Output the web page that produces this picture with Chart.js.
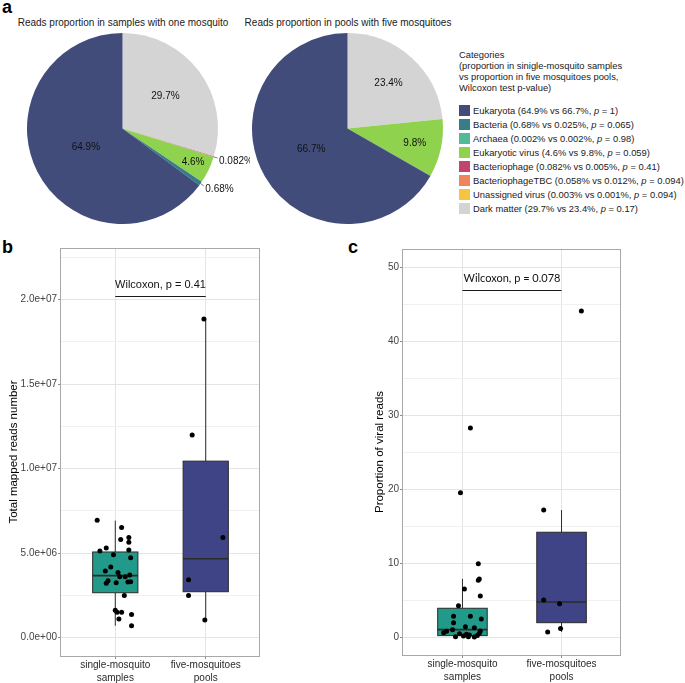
<!DOCTYPE html>
<html>
<head>
<meta charset="utf-8">
<script src="https://cdn.jsdelivr.net/npm/chart.js@4.4.1/dist/chart.umd.min.js"></script>
<style>
  body { margin: 0; background: #fff; font-family: "Liberation Sans", Arial, sans-serif; }
  #wrap { position: relative; width: 685px; height: 683px; overflow: hidden; }
  canvas { position: absolute; }
  .panel { position: absolute; font-weight: bold; font-size: 18px; line-height: 18px; color: #000; }
  .ptitle { position: absolute; width: 240px; text-align: center; font-size: 10px; line-height: 12px; color: #1a1a1a; }
  #legend { position: absolute; left: 459px; top: 49px; font-size: 9.4px; color: #1a1a1a; }
  #legend .head { line-height: 11.1px; margin-bottom: 10px; }
  #legend .row { height: 14px; display: flex; align-items: center; white-space: nowrap; }
  #legend .sw { width: 11px; height: 11px; margin-right: 3px; flex: none; }
</style>
</head>
<body>
<div id="wrap">
  <div class="panel" style="left:2px;top:-2px">a</div>
  <div class="panel" style="left:2px;top:238px">b</div>
  <div class="panel" style="left:348px;top:238px">c</div>
  <div class="ptitle" style="left:3px;top:17px">Reads proportion in samples with one mosquito</div>
  <div class="ptitle" style="left:228px;top:17px">Reads proportion in pools with five mosquitoes</div>
  <div id="legend"></div>
  <canvas id="pie1" width="250" height="200" style="left:0;top:30px"></canvas>
  <canvas id="pie2" width="210" height="200" style="left:240px;top:30px"></canvas>
  <canvas id="boxB" width="275" height="443" style="left:0;top:240px"></canvas>
  <canvas id="boxC" width="295" height="443" style="left:340px;top:240px"></canvas>
</div>
<script>
// ---- panel a data ----
const categories = ['Eukaryota', 'Bacteria', 'Archaea', 'Eukaryotic virus', 'Bacteriophage',
  'BacteriophageTBC', 'Unassigned virus', 'Dark matter'];
const catColors = ['#424C7A', '#377C89', '#52BA98', '#8FD24E', '#C24470', '#EF855C', '#F5C441', '#D4D4D4'];
const pctSingle = [64.9, 0.68, 0.002, 4.6, 0.082, 0.058, 0.003, 29.7];
const pctPools = [66.7, 0.025, 0.002, 9.8, 0.005, 0.012, 0.001, 23.4];
const pValues = ['1', '0.065', '0.98', '0.059', '0.41', '0.094', '0.094', '0.17'];

// which slices get a label, and where (fraction of radius, or 'out')
const pie1Labels = { 0: 0.43, 1: 'out', 3: 0.82, 4: 'out', 7: 0.56 };
const pie2Labels = { 0: 0.44, 3: 0.72, 7: 0.64 };

// ---- panels b / c data ----
const groupLabels = [['single-mosquito', 'samples'], ['five-mosquitoes', 'pools']];
const boxFills = ['#229A8A', '#3E4486'];

const readsSingle = [6.95e6, 6.51e6, 5.80e6, 5.92e6, 5.65e6, 5.31e6, 5.13e6, 5.19e6, 4.91e6, 4.73e6,
  4.18e6, 3.95e6, 3.85e6, 3.61e6, 3.61e6, 3.71e6, 3.37e6, 3.22e6, 3.25e6, 3.30e6,
  3.31e6, 2.49e6, 1.62e6, 1.50e6, 1.50e6, 1.11e6, 1.38e6, 0.71e6];
const readsSingleJitter = [-0.20, 0.07, 0.06, 0.15, 0.15, -0.10, -0.17, 0.15, -0.02, 0.17,
  -0.05, -0.11, 0.03, 0.05, 0.11, 0.16, -0.08, -0.10, 0.01, 0.14,
  0.17, 0.10, 0.0, 0.02, 0.07, 0.04, 0.18, 0.18];
const readsPools = [18.84e6, 11.98e6, 5.92e6, 3.43e6, 2.49e6, 1.05e6];
const readsPoolsJitter = [-0.02, -0.15, 0.19, -0.19, -0.19, -0.01];
// min, q1, median, q3, max
const readsBoxes = [[0.71e6, 2.66e6, 3.67e6, 5.07e6, 6.92e6], [1.05e6, 2.72e6, 4.67e6, 10.44e6, 18.84e6]];
const readsTicks = [0, 2.5e6, 5e6, 7.5e6, 10e6, 12.5e6, 15e6, 17.5e6, 20e6, 22.5e6];
const readsTest = { y: 20.2e6, text: 'Wilcoxon, p = 0.41' };

const viralSingle = [19.54, 28.3, 9.95, 7.88, 7.70, 6.53, 5.58, 4.27, 2.84, 2.84,
  2.47, 1.97, 1.43, 1.30, 1.03, 0.85, 0.62, 0.81, 0.49, 0.41,
  0.31, 0.18, 0.08, 0.08, 0.04, 0.22, 0.54];
const viralSingleJitter = [-0.02, 0.08, 0.16, 0.17, 0.16, 0.02, 0.18, -0.04, -0.09, 0.08,
  0.19, -0.09, 0.03, 0.12, -0.10, 0.18, -0.19, -0.16, -0.03, 0.04,
  0.07, 0.01, 0.06, -0.07, 0.12, 0.15, 0.17];
const viralPools = [44.1, 17.2, 5.04, 4.54, 0.72, 1.17];
const viralPoolsJitter = [0.20, -0.18, -0.18, -0.02, -0.14, -0.01];
const viralBoxes = [[0.04, 0.22, 1.03, 3.92, 7.9], [0.72, 1.97, 4.77, 14.2, 17.2]];
const viralTicks = [0, 5, 10, 15, 20, 25, 30, 35, 40, 45, 50];
const viralTest = { y: 47.0, text: 'Wilcoxon, p = 0.078' };

const FONT = '"Liberation Sans", Arial, sans-serif';

// legend (html)
var legendHtml = '<div class="head">Categories<br>(proportion in sinigle-mosquito samples<br>' +
  'vs proportion in five mosquitoes pools,<br>Wilcoxon test p-value)</div>';
categories.forEach(function (c, i) {
  legendHtml += '<div class="row"><div class="sw" style="background:' + catColors[i] + '"></div><span>' +
    c + ' (' + pctSingle[i] + '% vs ' + pctPools[i] + '%, <i>p</i> = ' + pValues[i] + ')</span></div>';
});
document.getElementById('legend').innerHTML = legendHtml;

// pie labels plugin
function pieLabelPlugin(values, labels) {
  return {
    id: 'pieLabels',
    afterDatasetsDraw(chart) {
      const ctx = chart.ctx;
      const arcs = chart.getDatasetMeta(0).data;
      const n = values.length;
      ctx.save();
      ctx.font = '10px ' + FONT;
      ctx.fillStyle = '#111';
      ctx.textBaseline = 'middle';
      Object.keys(labels).forEach(function (k) {
        const i = +k;
        const arc = arcs[n - 1 - i]; // drawn in reverse order
        const mid = (arc.startAngle + arc.endAngle) / 2;
        const txt = values[i] + '%';
        const r = arc.outerRadius;
        if (labels[k] === 'out') {
          const x0 = arc.x + Math.cos(mid) * r, y0 = arc.y + Math.sin(mid) * r;
          const x1 = arc.x + Math.cos(mid) * (r + 4), y1 = arc.y + Math.sin(mid) * (r + 4);
          ctx.strokeStyle = '#555';
          ctx.lineWidth = 0.8;
          ctx.beginPath(); ctx.moveTo(x0, y0); ctx.lineTo(x1, y1); ctx.stroke();
          ctx.textAlign = 'left';
          ctx.fillText(txt, x1 + 1.5, y1 + 3);
        } else {
          ctx.textAlign = 'center';
          ctx.fillText(txt, arc.x + Math.cos(mid) * r * labels[k], arc.y + Math.sin(mid) * r * labels[k]);
        }
      });
      ctx.restore();
    }
  };
}

function makePie(id, values, labels, pad) {
  return new Chart(document.getElementById(id), {
    type: 'pie',
    data: {
      labels: categories.slice().reverse(),
      datasets: [{
        data: values.slice().reverse(),
        backgroundColor: catColors.slice().reverse(),
        borderWidth: 0,
        hoverOffset: 0
      }]
    },
    options: {
      responsive: false,
      animation: false,
      events: [],
      layout: { padding: pad },
      plugins: { legend: { display: false }, tooltip: { enabled: false } }
    },
    plugins: [pieLabelPlugin(values, labels)]
  });
}

makePie('pie1', pctSingle, pie1Labels, { left: 27, right: 32, top: 3, bottom: 6 });
makePie('pie2', pctPools, pie2Labels, { left: 12, right: 7, top: 3, bottom: 6 });

// box plot drawing, through the chart scales
const BOX_WIDTH = 0.5;
function boxPlugin(stats, test, testFont) {
  return {
    id: 'boxes',
    beforeDatasetsDraw(chart) {
      const { ctx, scales: { x, y } } = chart;
      ctx.save();
      stats.forEach(function (s, i) {
        const cx = x.getPixelForValue(i + 1);
        const left = x.getPixelForValue(i + 1 - BOX_WIDTH / 2);
        const right = x.getPixelForValue(i + 1 + BOX_WIDTH / 2);
        const q1 = y.getPixelForValue(s[1]), q3 = y.getPixelForValue(s[3]);
        ctx.strokeStyle = '#2b2b2b';
        ctx.lineWidth = 1;
        ctx.beginPath();
        ctx.moveTo(cx, y.getPixelForValue(s[0])); ctx.lineTo(cx, q1);
        ctx.moveTo(cx, q3); ctx.lineTo(cx, y.getPixelForValue(s[4]));
        ctx.stroke();
        ctx.fillStyle = boxFills[i];
        ctx.fillRect(left, q3, right - left, q1 - q3);
        ctx.strokeRect(left, q3, right - left, q1 - q3);
        ctx.lineWidth = 1.6;
        const med = y.getPixelForValue(s[2]);
        ctx.beginPath(); ctx.moveTo(left, med); ctx.lineTo(right, med); ctx.stroke();
      });
      ctx.restore();
    },
    afterDraw(chart) {
      const { ctx, chartArea: a, scales: { x, y } } = chart;
      ctx.save();
      ctx.strokeStyle = '#a8a8a8';
      ctx.lineWidth = 1;
      ctx.strokeRect(Math.round(a.left) - 0.5, Math.round(a.top) + 0.5, Math.round(a.right - a.left), Math.round(a.bottom - a.top));
      const yy = Math.round(y.getPixelForValue(test.y)) + 0.5;
      const x1 = x.getPixelForValue(1), x2 = x.getPixelForValue(2);
      ctx.strokeStyle = '#1a1a1a';
      ctx.lineWidth = 1.1;
      ctx.beginPath(); ctx.moveTo(x1, yy); ctx.lineTo(x2, yy); ctx.stroke();
      ctx.font = testFont;
      ctx.fillStyle = '#111';
      ctx.textAlign = 'center';
      ctx.textBaseline = 'middle';
      ctx.fillText(test.text, (x1 + x2) / 2, yy - 12);
      ctx.restore();
    }
  };
}

function sci(v) {
  const parts = v.toExponential(1).split('e');
  const n = parseInt(parts[1], 10);
  return parts[0] + 'e' + (n < 0 ? '-' : '+') + String(Math.abs(n)).padStart(2, '0');
}

function makeBox(id, o) {
  const pts = function (vals, jit, g) {
    return vals.map(function (v, i) { return { x: g + jit[i], y: v }; });
  };
  return new Chart(document.getElementById(id), {
    type: 'scatter',
    data: {
      datasets: [
        { data: pts(o.single, o.singleJit, 1) },
        { data: pts(o.pools, o.poolsJit, 2) }
      ]
    },
    options: {
      responsive: false,
      animation: false,
      events: [],
      layout: { padding: o.pad },
      elements: { point: { radius: 2.5, backgroundColor: '#000', borderWidth: 0 } },
      plugins: { legend: { display: false }, tooltip: { enabled: false } },
      scales: {
        x: {
          type: 'linear', min: 0.4, max: 2.6,
          afterBuildTicks: function (s) { s.ticks = [{ value: 1 }, { value: 2 }]; },
          afterFit: function (s) { s.height = o.xHeight; },
          border: { display: false },
          grid: { color: '#e4e4e4', tickColor: '#8c8c8c', tickLength: 3 },
          ticks: {
            autoSkip: false, maxRotation: 0, padding: 0, color: '#2a2a2a',
            font: { family: FONT, size: 10, lineHeight: 1.3 },
            callback: function (v) { return groupLabels[v - 1]; }
          }
        },
        y: {
          min: o.min, max: o.max,
          afterBuildTicks: function (s) { s.ticks = o.ticks.map(function (v) { return { value: v }; }); },
          afterFit: function (s) { s.width = o.yWidth; },
          border: { display: false },
          grid: {
            tickLength: 3,
            color: function (c) { return c.tick && c.tick.value % o.major === 0 ? '#e4e4e4' : '#f0f0f0'; },
            tickColor: function (c) { return c.tick && c.tick.value % o.major === 0 ? '#8c8c8c' : 'rgba(0,0,0,0)'; }
          },
          ticks: {
            padding: 1, color: '#444', font: { family: FONT, size: 10 },
            callback: function (v) { return v % o.major === 0 ? o.fmt(v) : ''; }
          },
          title: {
            display: true, text: o.title, color: '#000',
            font: { family: FONT, size: 11.5 }, padding: { top: o.titlePad, bottom: 0 }
          }
        }
      }
    },
    plugins: [boxPlugin(o.boxes, o.test, o.testFont)]
  });
}

makeBox('boxB', {
  single: readsSingle, singleJit: readsSingleJitter, pools: readsPools, poolsJit: readsPoolsJitter,
  boxes: readsBoxes, ticks: readsTicks, test: readsTest, major: 5e6, fmt: sci,
  min: -1.08e6, max: 23.04e6, title: 'Total mapped reads number',
  pad: { top: 8, right: 15, left: 0, bottom: 0 }, yWidth: 61, xHeight: 27, titlePad: 7,
  testFont: '11px ' + FONT
});

makeBox('boxC', {
  single: viralSingle, singleJit: viralSingleJitter, pools: viralPools, poolsJit: viralPoolsJitter,
  boxes: viralBoxes, ticks: viralTicks, test: viralTest, major: 10, fmt: function (v) { return String(v); },
  min: -2.4, max: 52.5, title: 'Proportion of viral reads',
  pad: { top: 9, right: 14, left: 30, bottom: 0 }, yWidth: 33, xHeight: 28, titlePad: 3,
  testFont: '11px Lato, ' + FONT
});
</script>
</body>
</html>
